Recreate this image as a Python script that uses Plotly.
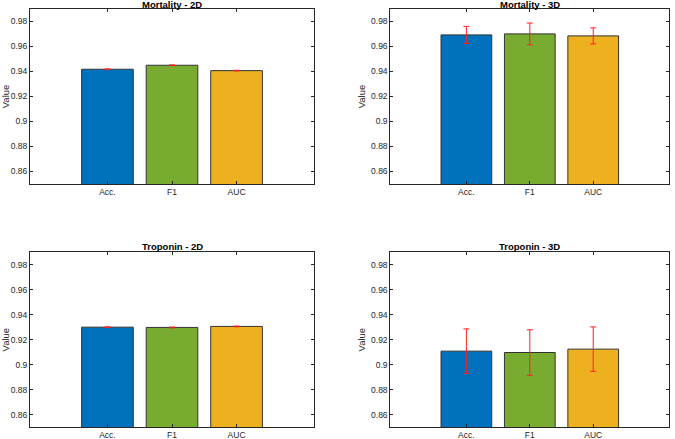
import plotly.graph_objects as go

categories = ["Acc.", "F1", "AUC"]
bar_colors = ["#0072BD", "#77AC30", "#EDB120"]

titles = ["Mortality - 2D", "Mortality - 3D", "Troponin - 2D", "Troponin - 3D"]
mort2d = [0.9418, 0.9450, 0.9407]
mort2d_err = [0.0003, 0.0003, 0.0003]
mort3d = [0.9693, 0.9701, 0.9685]
mort3d_err = [0.0068, 0.0087, 0.0064]
trop2d = [0.9300, 0.9298, 0.9306]
trop2d_err = [0.0003, 0.0003, 0.0003]
trop3d = [0.9108, 0.9097, 0.9124]
trop3d_err = [0.0178, 0.0182, 0.0178]

yticks = [0.86, 0.88, 0.90, 0.92, 0.94, 0.96, 0.98]
yticktext = ["0.86", "0.88", "0.9", "0.92", "0.94", "0.96", "0.98"]

series = [(mort2d, mort2d_err), (mort3d, mort3d_err), (trop2d, trop2d_err), (trop3d, trop3d_err)]

W, H = 675, 439
xdoms = [[30 / W, 314 / W], [390.3 / W, 669.3 / W]]
ydoms = [[1 - 184 / H, 1 - 9 / H], [1 - 427 / H, 1 - 252.3 / H]]
title_centers = [4.5, 246.5]

fig = go.Figure()
font = "Liberation Sans, Arial, Helvetica, sans-serif"
axcol = "#262626"

for i, (vals, errs) in enumerate(series):
    r, c = divmod(i, 2)
    xa = "x" if i == 0 else f"x{i+1}"
    ya = "y" if i == 0 else f"y{i+1}"
    fig.add_trace(go.Bar(
        x=[1, 2, 3], y=vals, base=0,
        marker=dict(color=bar_colors, line=dict(color="#333333", width=1)),
        width=0.8,
        error_y=dict(type="data", array=errs, color="#FF2020", thickness=1, width=3),
        xaxis=xa, yaxis=ya, showlegend=False,
    ))
    axis_common = dict(showline=True, linecolor=axcol, linewidth=1, mirror="ticks",
                       ticks="inside", ticklen=3, tickcolor=axcol, showgrid=False, zeroline=False,
                       tickfont=dict(family=font, size=8.5, color=axcol))
    xkey = "xaxis" if i == 0 else f"xaxis{i+1}"
    ykey = "yaxis" if i == 0 else f"yaxis{i+1}"
    fig.update_layout(**{
        xkey: dict(domain=xdoms[c], anchor=ya, range=[-0.2, 4.2], tickvals=[1, 2, 3],
                   ticktext=categories, **axis_common),
        ykey: dict(domain=ydoms[r], anchor=xa, range=[0.85, 0.99], tickvals=yticks,
                   ticktext=yticktext,
                   title=dict(text="Value", font=dict(family=font, size=9.5, color=axcol), standoff=3),
                   **axis_common),
    })
    fig.add_annotation(text=f"<b>{titles[i]}</b>", xref="paper", yref="paper",
                       x=(xdoms[c][0] + xdoms[c][1]) / 2, y=1 - title_centers[r] / H,
                       xanchor="center", yanchor="middle", showarrow=False,
                       font=dict(family=font, size=9.5, color="#000000"))

fig.update_layout(width=W, height=H, margin=dict(l=0, r=0, t=0, b=0),
                  plot_bgcolor="white", paper_bgcolor="white", bargap=0.2)
fig.write_html("out.html")
